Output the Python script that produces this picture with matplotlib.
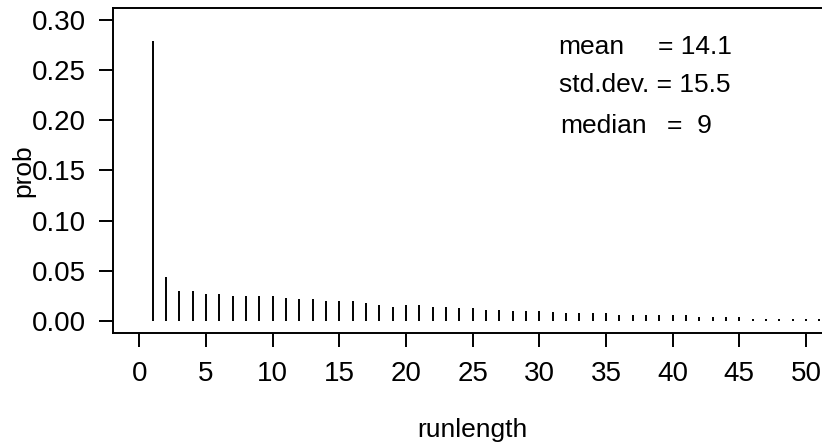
import numpy as np
import matplotlib
matplotlib.use("Agg")
import matplotlib.pyplot as plt

plt.rcParams['font.family'] = ['Liberation Sans', 'DejaVu Sans']

# run length distribution
runlength = list(range(1, 52))
prob = [0.279, 0.0442, 0.030, 0.030, 0.0266, 0.0266, 0.0249, 0.0249, 0.0249, 0.0249,
        0.0232, 0.0216, 0.0216, 0.0199, 0.0199, 0.0199, 0.0183, 0.016, 0.0143, 0.016,
        0.016, 0.0143, 0.0143, 0.0126, 0.0126, 0.0113, 0.0113, 0.010, 0.010, 0.010,
        0.0093, 0.0076, 0.0076, 0.0076, 0.0076, 0.0056, 0.0056, 0.0056, 0.0056, 0.0056,
        0.0056, 0.004, 0.004, 0.004, 0.004, 0.0023, 0.0023, 0.0023, 0.0023, 0.0023,
        0.0023]

stat_names = ["mean", "std.dev.", "median"]
stat_values = ["14.1", "15.5", "9"]

fig = plt.figure(figsize=(8.22, 4.44), dpi=100)
ax = fig.add_axes([0.1371, 0.25, 0.8758, 0.732])

ax.vlines(runlength, 0, prob, color="black", lw=1.4)

ax.set_xlim(-2, 52)
ax.set_ylim(-0.012, 0.312)
ax.set_xticks(np.arange(0, 51, 5))
ax.set_yticks(np.arange(0, 0.31, 0.05))
ax.set_yticklabels(["%.2f" % v for v in np.arange(0, 0.31, 0.05)])

for s in ax.spines.values():
    s.set_linewidth(1.4)
ax.tick_params(length=10, width=1.4, labelsize=20)
ax.tick_params(axis="x", pad=10)
ax.tick_params(axis="y", pad=9)

ax.set_xlabel("runlength", fontsize=19)
ax.set_ylabel("prob", fontsize=19)
ax.xaxis.set_label_coords(0.5, -0.26)
ax.yaxis.set_label_coords(-0.108, 0.5)

# summary statistics in the upper right corner
fs = 19
ax.text(31.4, 0.2736, stat_names[0], fontsize=fs, va="center")
ax.text(38.9, 0.2736, "= " + stat_values[0], fontsize=fs, va="center")
ax.text(31.5, 0.2348, stat_names[1] + " = " + stat_values[1], fontsize=fs, va="center")
ax.text(31.6, 0.1942, stat_names[2], fontsize=fs, va="center")
ax.text(39.6, 0.1942, "=  " + stat_values[2], fontsize=fs, va="center")

fig.savefig("out.png", dpi=100)
